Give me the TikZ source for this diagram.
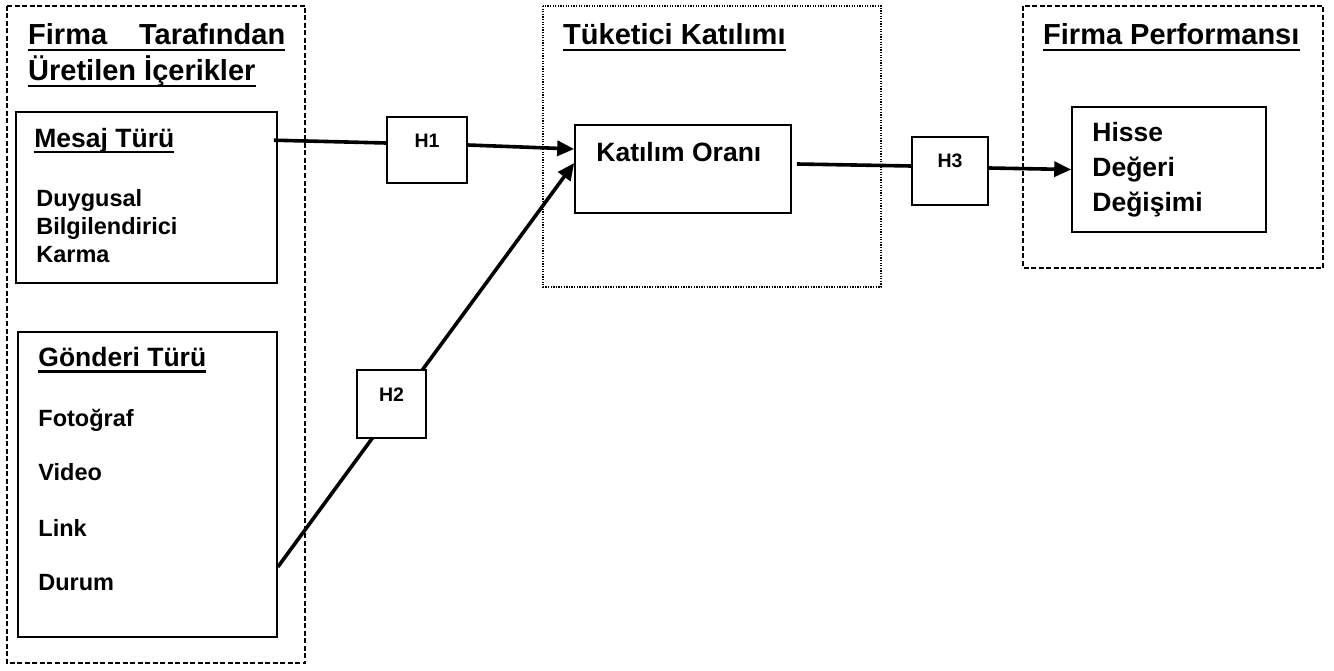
\documentclass[tikz,border=0pt]{standalone}
\usepackage{fontspec}
\setmainfont{Liberation Sans}
\usetikzlibrary{arrows.meta,positioning,calc}
\tikzset{
  grp/.style={line width=1.3pt,dash pattern=on 5pt off 2.5pt},
  grpdot/.style={line width=1.3pt,dash pattern=on 1.3pt off 1.3pt},
  box/.style={draw,line width=1.6pt,inner sep=0pt},
  hyp/.style={box,fill=white,text height=31pt,font=\bfseries\fontsize{19.5}{22}\selectfont},
  ttl/.style={inner sep=0pt,anchor=base west,font=\bfseries\fontsize{29}{34}\selectfont},
  hd/.style={ttl,font=\bfseries\fontsize{26.5}{30}\selectfont},
  itm/.style={ttl,font=\bfseries\fontsize{23.5}{28}\selectfont},
  uline/.style={line width=2.6pt},
  link/.style={line width=3.6pt},
  arr/.style={link,-{Triangle[length=17pt,width=15pt]}}
}

\begin{document}
\begin{tikzpicture}[x=1pt,y=-1pt]
  \useasboundingbox (0,0) rectangle (1334,671);
  % groups
  \draw[grp] (7,6) rectangle (305,663);
  \draw[grpdot] (543,6) rectangle (881,287);
  \draw[grp] (1023,6) rectangle (1323,268);
  \node[ttl] (t1) at (28,45) {\makebox[257pt]{Firma\hfill Tarafından}};
  \node[ttl] (t2) at (28,81) {Üretilen İçerikler};
  \node[ttl] (t3) at (563,45) {Tüketici Katılımı};
  \node[ttl] (t4) at (1043,45) {Firma Performansı};
  % boxes
  \node[box,minimum width=261pt,minimum height=171pt] (m) at (146.5,197.5) {};
  \node[box,minimum width=259pt,minimum height=305pt] (g) at (147.5,484.5) {};
  \node[box,minimum width=216pt,minimum height=88pt] (k) at (683,169) {};
  \node[box,minimum width=194pt,minimum height=125pt] (hs) at (1169,169.5) {};
  \node[hd] (mh) at ($(m.north west)+(19,36)$) {Mesaj Türü};
  \node[itm] (m1) at ($(m.north west)+(21,95)$) {Duygusal};
  \node[itm] (m2) at ($(m.north west)+(21,123)$) {Bilgilendirici};
  \node[itm] (m3) at ($(m.north west)+(21,151)$) {Karma};
  \node[hd] (gh) at ($(g.north west)+(21,35)$) {Gönderi Türü};
  \node[itm] (g1) at ($(g.north west)+(21,95)$) {Fotoğraf};
  \node[itm] (g2) at ($(g.north west)+(21,149)$) {Video};
  \node[itm] (g3) at ($(g.north west)+(21,205)$) {Link};
  \node[itm] (g4) at ($(g.north west)+(21,259)$) {Durum};
  \node[hd] (ko) at ($(k.north west)+(22,37)$) {Katılım Oranı};
  \node[hd] (hs1) at ($(hs.north west)+(21,35)$) {Hisse};
  \node[hd] (hs2) at ($(hs.north west)+(21,70)$) {Değeri};
  \node[hd] (hs3) at ($(hs.north west)+(21,105)$) {Değişimi};
  \foreach \n in {t1,t2,t3,t4,mh,gh}
    \draw[uline] ([yshift=-5pt]\n.base west) -- ([yshift=-5pt]\n.base east);
  % hypotheses
  \node[hyp,minimum width=80pt,text depth=35pt] (h1) at (427,150) {H1};
  \node[hyp,minimum width=76pt,text depth=37pt] (h3) at (950,171) {H3};
  \draw[link] ([shift={(-4,29)}]m.north east) -- ([yshift=7pt]h1.west);
  \draw[arr] ([yshift=5pt]h1.east) -- ([yshift=20pt]k.west);
  \draw[arr] ([yshift=-82.5pt]g.east) -- ([yshift=6pt]k.west);
  \node[hyp,minimum width=69pt,text depth=37pt] (h2) at (391.5,404) {H2};
  \draw[link] ([shift={(5,-5)}]k.east) -- ([yshift=5pt]h3.west);
  \draw[arr] ([yshift=3pt]h3.east) -- (hs.west);
\end{tikzpicture}
\end{document}
